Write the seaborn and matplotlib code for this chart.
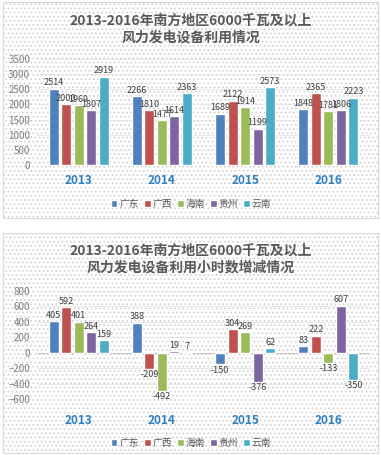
import pandas as pd
import matplotlib.pyplot as plt
import matplotlib.transforms as mtransforms
import seaborn as sns
from matplotlib.patches import Rectangle

# Data
years = ["2013", "2014", "2015", "2016"]
regions = ["广东", "广西", "海南", "贵州", "云南"]

hours_gd = [2514, 2266, 1689, 1848]
hours_gx = [2000, 1810, 2122, 2365]
hours_hn = [1969, 1477, 1914, 1781]
hours_gz = [1807, 1614, 1199, 1806]
hours_yn = [2919, 2363, 2573, 2223]

delta_gd = [405, 388, -150, 83]
delta_gx = [592, -209, 304, 222]
delta_hn = [401, -492, 269, -133]
delta_gz = [264, 19, -376, 607]
delta_yn = [159, 7, 62, -350]

colors = ["#4F81BD", "#C0504D", "#9BBB59", "#8064A2", "#4BACC6"]

title_top = "2013-2016年南方地区6000千瓦及以上\n风力发电设备利用情况"
title_bottom = "2013-2016年南方地区6000千瓦及以上\n风力发电设备利用小时数增减情况"


def long_table(series):
    rows = []
    for reg, vals in zip(regions, series):
        for yr, v in zip(years, vals):
            rows.append({"year": yr, "region": reg, "value": v})
    return pd.DataFrame(rows)


top_df = long_table([hours_gd, hours_gx, hours_hn, hours_gz, hours_yn])
bot_df = long_table([delta_gd, delta_gx, delta_hn, delta_gz, delta_yn])

sns.set_style("white")
plt.rcParams["font.family"] = ["Noto Sans CJK SC", "DejaVu Sans"]
plt.rcParams["hatch.color"] = "#d0d0d0"
plt.rcParams["hatch.linewidth"] = 0.7

W, H = 381, 455
fig = plt.figure(figsize=(W / 100, H / 100), dpi=100)


def panel(y0, y1):
    # dotted panel background with light frame, in pixel coords
    r = Rectangle((3 / W, 1 - y1 / H), 375 / W, (y1 - y0) / H,
                  transform=fig.transFigure, facecolor="white",
                  hatch="....", edgecolor="#d0d0d0", lw=0, zorder=-5)
    fig.patches.append(r)
    b = Rectangle((3 / W, 1 - y1 / H), 375 / W, (y1 - y0) / H,
                  transform=fig.transFigure, facecolor="none",
                  edgecolor="#d9d9d9", lw=0.8, zorder=-4)
    fig.patches.append(b)


def draw(df, rect, ylim, step, title, title_y, xlab_y, leg_y):
    ax = fig.add_axes(rect)
    ax.set_facecolor("none")
    sns.barplot(data=df, x="year", y="value", hue="region",
                palette=colors, width=0.75, gap=0.2, ax=ax, legend=True,
                saturation=1, zorder=3)
    for c in ax.containers:
        ax.bar_label(c, padding=1, fontsize=6.5, color="#404040")
    ax.set_ylim(*ylim)
    ax.set_yticks(range(ylim[0], ylim[1] + 1, step))
    ax.yaxis.grid(True, color="#e4e4e4", lw=0.6, zorder=0)
    ax.tick_params(axis="y", labelsize=7, colors="#7f7f7f", length=0, pad=5)
    ax.tick_params(axis="x", length=0, pad=0)
    ax.set_xticklabels([])
    ax.set_xlabel("")
    ax.set_ylabel("")
    for s in ax.spines.values():
        s.set_visible(False)
    if ylim[0] < 0:
        ax.axhline(0, color="#bfbfbf", lw=0.6, zorder=2)
    # year labels at a fixed pixel row
    tr = mtransforms.blended_transform_factory(ax.transData, fig.transFigure)
    for i, yr in enumerate(years):
        ax.text(i, 1 - xlab_y / H, yr, transform=tr,
                fontsize=8.5, fontweight="bold", color="#2E7FBF",
                ha="center", va="center")
    h, l = ax.get_legend_handles_labels()
    ax.get_legend().remove()
    fig.legend(h, l, loc="center", bbox_to_anchor=(191 / W, 1 - leg_y / H),
               ncol=5, frameon=False, fontsize=7, handlelength=0.7,
               handleheight=0.7, handletextpad=0.2, columnspacing=0.5,
               labelcolor="#595959")
    fig.text(191 / W, 1 - title_y / H, title, ha="center", va="center",
             fontsize=10, fontweight="bold", color="#595959",
             linespacing=1.25)
    return ax


panel(2, 218)
panel(233, 453)

draw(top_df, [37 / W, 1 - 165 / H, 333 / W, 106 / H], (0, 3500), 500,
     title_top, 29, 181, 204)
draw(bot_df, [37 / W, 1 - 399 / H, 333 / W, 108 / H], (-600, 800), 200,
     title_bottom, 259, 420, 443)

fig.savefig("out.png", dpi=100)
